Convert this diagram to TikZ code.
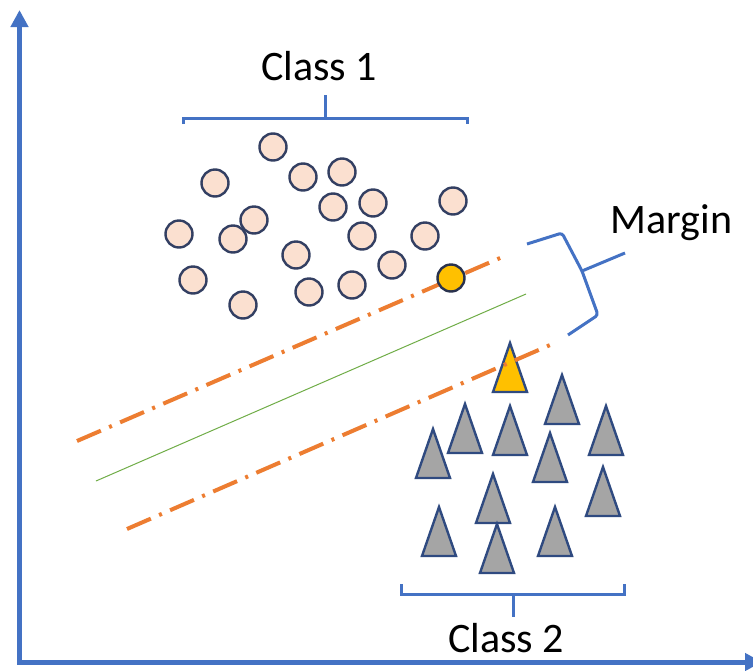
\documentclass[tikz,border=0pt]{standalone}
\usepackage{fontspec}
\setmainfont{Carlito}
\usetikzlibrary{arrows.meta}
\definecolor{axisblue}{HTML}{4472C4}
\definecolor{peach}{HTML}{FBE0D0}
\definecolor{navy}{HTML}{333F62}
\definecolor{triborder}{HTML}{2F4A80}
\definecolor{trigray}{HTML}{A5A5A5}
\definecolor{gold}{HTML}{FFC000}
\definecolor{orangeline}{HTML}{ED7D31}
\definecolor{greenline}{HTML}{70AD47}
\tikzset{
  pt/.style={circle, draw=navy, fill=peach, line width=2.4pt, minimum size=27pt, inner sep=0pt},
  ptsv/.style={pt, fill=gold, draw=navy!80!black},
  tri/.style={draw=triborder, fill=trigray, line width=2.4pt, line join=miter},
  trisv/.style={tri, fill=gold},
  margline/.style={draw=orangeline, line width=4pt, dash pattern=on 26pt off 9pt on 3pt off 9pt},
  hyper/.style={draw=greenline, line width=1pt},
  brk/.style={draw=axisblue, line width=3pt},
  lbl/.style={font=\fontsize{42}{48}\selectfont, anchor=base, inner sep=0pt},
  axisline/.style={draw=axisblue, line width=5pt, -{Triangle[width=17pt,length=17pt]}}
}
\begin{document}
\begin{tikzpicture}[x=1pt,y=-1pt]
\useasboundingbox (0,0) rectangle (753,670);
\clip (0,0) rectangle (753,670);
\fill[white] (0,0) rectangle (753,670);
% axes
\coordinate (origin) at (19.5,662);
\coordinate (ytop) at (19.5,10);
\coordinate (xend) at (762,662);
\draw[axisline] (origin) -- (ytop);
\draw[axisline] ([xshift=-2.5pt]origin) -- (xend);
% triangles (class 2)
\foreach \x/\y in {562/375, 465/404, 510/406, 606/406, 433/429, 550/433, 603/467, 493/474, 439/507, 555/507, 497/524}{
  \draw[tri] (\x,\y) -- (\x+17,\y+49) -- (\x-17,\y+49) -- cycle;
}
\draw[trisv] (510,343) -- (527,392) -- (493,392) -- cycle;
% lines
\coordinate (u1) at (77,441);
\coordinate (u2) at (507,255);
\coordinate (l1) at (127,529);
\coordinate (l2) at (557,342);
\coordinate (g1) at (96,481);
\coordinate (g2) at (526,294);
\draw[margline] (u1) -- (u2);
\draw[margline] (l1) -- (l2);
\draw[hyper] (g1) -- (g2);
% circles (class 1)
\node[pt] (c1) at (273,147) {};
\node[pt] (c2) at (215,183) {};
\node[pt] (c3) at (303,177) {};
\node[pt] (c4) at (342,172) {};
\node[pt] (c5) at (333,207) {};
\node[pt] (c6) at (373,203) {};
\node[pt] (c7) at (453,201) {};
\node[pt] (c8) at (254,220) {};
\node[pt] (c9) at (233,239) {};
\node[pt] (c10) at (179,234) {};
\node[pt] (c11) at (296,255) {};
\node[pt] (c12) at (362,236) {};
\node[pt] (c13) at (425,236) {};
\node[pt] (c14) at (193,280) {};
\node[pt] (c15) at (243,305) {};
\node[pt] (c16) at (309,292) {};
\node[pt] (c17) at (352,285) {};
\node[pt] (c18) at (392,265) {};
\node[ptsv] (c19) at (451,278) {};
% brackets
\draw[brk] (183,124) -- (183,118) -- (467,118) -- (467,124);
\draw[brk] (325,118) -- (325,95);
\draw[brk] (401,584) -- (401,594) -- (624,594) -- (624,584);
\draw[brk] (513,594) -- (513,617);
\coordinate (m1) at (527,244);
\coordinate (m2) at (562,233);
\coordinate (m3) at (582,271);
\coordinate (m4) at (598,315);
\coordinate (m5) at (568,335);
\coordinate (m6) at (625,253);
\draw[brk, rounded corners=3pt] (m1) -- (m2) -- (m3) -- (m4) -- (m5);
\draw[brk] (m3) -- (m6);
% labels
\node[lbl] (class1) at (319,80) {Class 1};
\node[lbl] (margin) at (671.5,233) {Margin};
\node[lbl] (class2) at (506,652) {Class 2};
\end{tikzpicture}
\end{document}
